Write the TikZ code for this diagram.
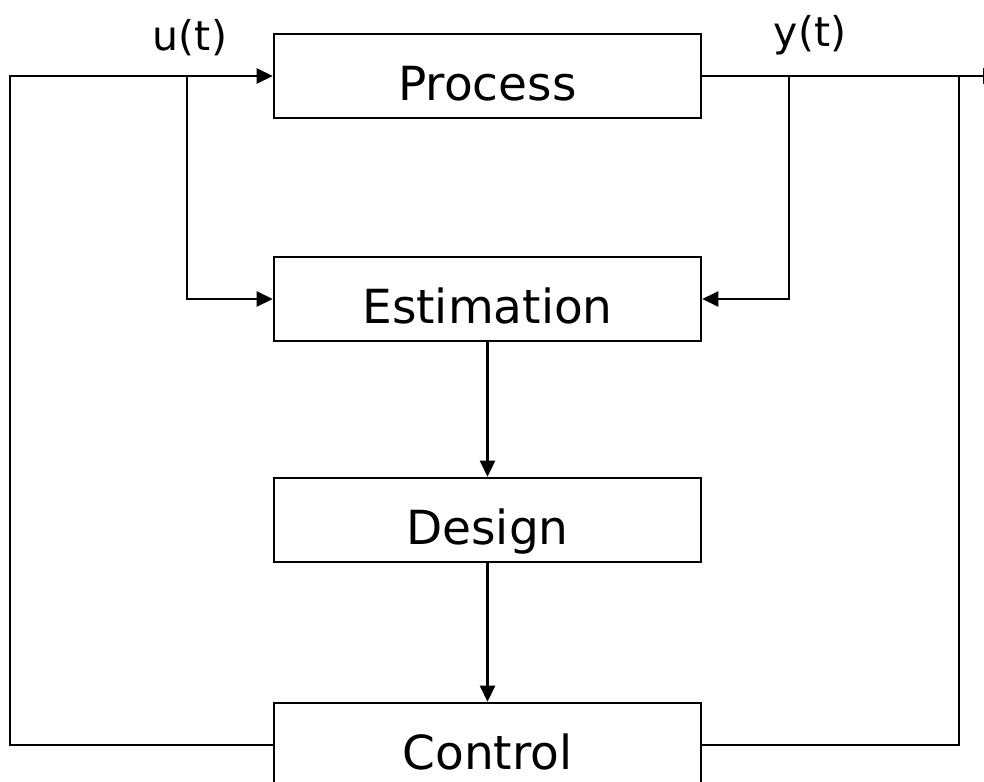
\documentclass[tikz,border=0pt]{standalone}
\usepackage{fontspec}
\setmainfont{DejaVu Sans}
\usetikzlibrary{arrows.meta}
\begin{document}
\begin{tikzpicture}[x=1bp,y=-1bp,
  line width=2.6bp,
  blockbox/.style={draw, rectangle, inner sep=0pt, minimum width=427bp,
    minimum height=84bp, font=\fontsize{47bp}{50bp}\selectfont,
    text height=48bp, text depth=0bp},
  sig/.style={font=\fontsize{41bp}{45bp}\selectfont, inner sep=0pt, anchor=base},
  arr/.style={-{Triangle[length=16bp,width=15bp]}}]
\useasboundingbox (0,0) rectangle (984,782);
\clip (0,0) rectangle (984,782);

% blocks of the adaptive loop
\node[blockbox] (process)    at (487.5,76)  {Process};
\node[blockbox] (estimation) at (487.5,299) {Estimation};
\node[blockbox] (design)     at (487.5,520) {Design};
\node[blockbox] (control)    at (487.5,745) {Control};

% signal labels
\node[sig] (ulbl) at (190,51) {u(t)};
\node[sig] (ylbl) at (810,47) {y(t)};

% routing points
\coordinate (lft)  at (10,76);
\coordinate (ubr)  at (187,76);
\coordinate (ybr1) at (789,76);
\coordinate (ybr2) at (959,76);
\coordinate (yend) at (999,76);

% input u(t): from control back to process, tapped to estimation
\draw[arr] (control.west) -| (lft) -- (process.west);
\draw[arr] (ubr) |- (estimation.west);

% output y(t): out of process, tapped to estimation and control
\draw[arr] (process.east) -- (yend);
\draw[arr] (ybr1) |- (estimation.east);
\draw (ybr2) |- (control.east);

% estimation -> design -> control
\draw[arr] (estimation.south) -- (design.north);
\draw[arr] (design.south) -- (control.north);
\end{tikzpicture}
\end{document}
